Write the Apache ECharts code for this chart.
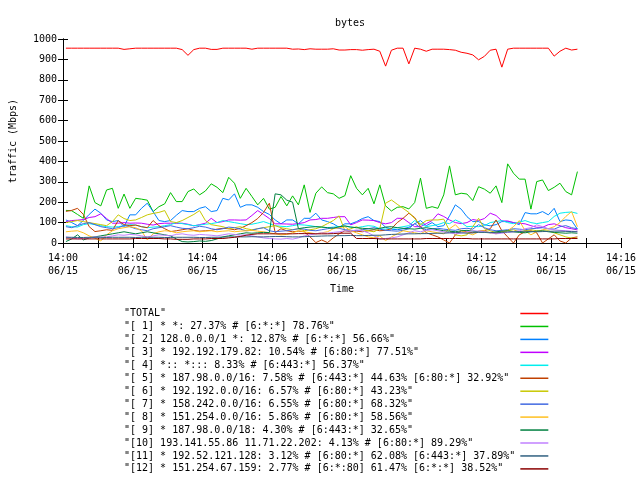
<!DOCTYPE html>
<html><head><meta charset="utf-8">
<script src="https://cdn.jsdelivr.net/npm/echarts@6/dist/echarts.min.js"></script>
<style>html,body{margin:0;padding:0;background:#fff}#c{width:640px;height:480px}</style>
</head><body><div id="c"></div>
<script>
const FONT = '"DejaVu Sans Mono", monospace';
// sample times: seconds after 14:00:00, every 10 s from 14:00:05
const startSec = 5, stepSec = 10;

const seriesNames = [
  '"TOTAL"',
  '"[ 1] * *: 27.37% # [6:*:*] 78.76%"',
  '"[ 2] 128.0.0.0/1 *: 12.87% # [6:*:*] 56.66%"',
  '"[ 3] * 192.192.179.82: 10.54% # [6:80:*] 77.51%"',
  '"[ 4] *:: *::: 8.33% # [6:443:*] 56.37%"',
  '"[ 5] * 187.98.0.0/16: 7.58% # [6:443:*] 44.63% [6:80:*] 32.92%"',
  '"[ 6] * 192.192.0.0/16: 6.57% # [6:80:*] 43.23%"',
  '"[ 7] * 158.242.0.0/16: 6.55% # [6:80:*] 68.32%"',
  '"[ 8] * 151.254.0.0/16: 5.86% # [6:80:*] 58.56%"',
  '"[ 9] * 187.98.0.0/18: 4.30% # [6:443:*] 32.65%"',
  '"[10] 193.141.55.86 11.71.22.202: 4.13% # [6:80:*] 89.29%"',
  '"[11] * 192.52.121.128: 3.12% # [6:80:*] 62.08% [6:443:*] 37.89%"',
  '"[12] * 151.254.67.159: 2.77% # [6:*:80] 61.47% [6:*:*] 38.52%"'
];
const seriesColors = ['#ff0000','#00c000','#0080ff','#c000ff','#00eeee','#c04000','#c8c800','#4169e1','#ffc020','#008040','#c080ff','#306080','#8b0000'];

const total = [955,955,955,955,955,955,955,955,955,955, 949,952,955,955,955,955,955,955,955,955,
  948,920,948,955,955,949,949,955,955,955, 955,955,950,955,955,955,955,955,955,950,
  951,948,952,950,950,950,952,946,946,948, 948,945,948,950,940,867,945,955,955,878,
  955,950,940,950,950,950,948,945,935,930, 922,898,915,945,950,862,950,955,955,955,
  955,955,955,955,916,940,955,946,950];
const s1 = [160,158,140,121,280,198,182,260,268,170, 240,170,219,215,210,154,178,192,247,203,
  203,252,265,236,255,290,273,247,322,293, 219,268,228,187,219,166,175,228,182,231,
  187,285,150,244,275,247,241,219,232,330, 268,236,268,192,285,182,157,175,178,167,
  198,318,170,178,170,236,378,236,244,240, 208,276,264,244,280,198,388,342,313,313,
  166,301,309,257,273,293,252,236,350];
const s2 = [113,100,85,110,140,166,146,113,105,110, 80,138,138,170,195,154,110,105,110,136,
  159,154,154,170,178,154,159,219,211,241, 175,187,187,175,154,140,113,94,113,113,
  94,121,121,146,113,105,94,77,94,94, 105,120,129,110,105,77,68,65,70,77,
  94,110,85,100,80,85,133,187,166,129, 105,105,90,84,90,105,105,100,90,149,
  143,143,154,138,170,105,113,110,68];
const s3 = [105,110,112,115,125,129,143,120,97,97, 100,97,98,97,92,88,95,97,97,96,
  97,92,84,90,97,121,100,105,113,113, 112,113,135,159,140,120,94,94,93,92,
  95,100,113,115,121,121,125,129,129,89, 100,113,112,110,100,94,100,121,121,100,
  80,80,95,110,143,130,113,100,95,100, 115,110,120,146,135,108,108,100,97,94,
  85,77,77,90,94,85,75,70,64];
const s4 = [85,80,78,90,95,90,85,80,78,80, 85,90,88,80,75,78,80,85,90,100,
  95,90,85,88,92,95,100,110,105,100, 95,90,92,98,105,95,85,82,80,85,
  90,88,85,80,78,75,78,80,82,78, 75,80,85,82,70,68,72,75,80,85,
  110,95,80,85,90,100,95,113,100,80, 82,80,85,100,105,110,100,95,102,110,
  100,95,100,105,130,146,150,152,145];
const s5 = [155,160,170,140,80,56,60,65,62,110, 90,85,88,80,75,110,85,70,56,60,
  65,70,62,58,60,62,68,72,70,65, 72,85,100,120,150,195,51,70,60,55,
  58,55,30,2,15,2,25,45,60,55, 58,55,60,65,60,62,70,100,121,146,
  125,80,50,40,30,15,0,40,60,55, 50,58,60,70,113,60,30,0,40,55,
  60,50,0,20,40,10,0,25,30];
const s6 = [100,105,110,105,100,95,90,85,105,138, 120,110,113,125,138,145,150,159,105,100,
  110,125,140,159,110,90,85,80,70,75, 80,70,65,70,75,80,85,75,70,65,
  70,60,65,70,80,95,110,133,60,70, 80,65,60,55,70,195,211,190,170,150,
  120,90,110,113,113,117,60,40,35,40, 80,121,70,60,50,55,60,65,55,60,
  65,60,58,60,50,40,30,24,24];
const s7 = [80,75,85,95,100,90,80,75,70,75, 85,80,70,65,60,70,75,80,85,78,
  72,70,75,82,78,70,65,70,78,75, 68,60,62,70,75,60,55,58,60,65,
  70,68,62,60,65,70,75,72,65,62, 60,65,70,75,68,62,60,58,62,70,
  95,75,65,70,72,68,65,62,70,72, 68,90,75,65,60,62,65,70,68,65,
  70,72,75,70,68,80,85,75,70];
const s8 = [55,58,60,50,35,24,10,40,60,70, 75,80,75,60,15,45,55,60,58,50,
  55,58,60,55,58,60,55,58,60,55, 58,60,62,58,55,50,45,40,42,50,
  60,55,50,45,50,55,70,75,80,60, 50,40,30,25,35,12,30,45,60,55,
  50,45,60,55,50,45,70,90,60,50, 40,55,60,50,45,55,60,80,110,60,
  40,55,65,70,80,100,130,154,80];
const s9 = [7,20,40,15,25,30,35,40,45,50, 55,50,45,50,55,50,45,40,35,20,
  7,5,7,10,8,12,20,30,35,40, 45,50,48,50,52,51,241,236,210,200,
  70,75,78,80,78,75,72,80,84,78, 75,72,70,68,72,78,80,75,72,70,
  68,72,75,70,65,60,58,55,60,62, 58,55,52,50,55,58,60,55,52,50,
  55,58,60,55,52,50,48,50,48];
const s10 = [30,25,20,22,25,30,28,30,35,40, 38,42,40,35,30,35,40,38,35,42,
  45,40,38,42,40,38,35,40,45,42, 38,40,35,30,25,22,20,19,22,19,
  25,35,40,45,50,48,52,55,60,58, 64,60,50,35,20,22,25,30,40,50,
  60,55,62,65,60,55,50,45,48,55, 60,58,55,50,45,48,52,55,60,70,
  75,89,80,70,65,62,60,58,55];
const s11 = [28,28,27,27,28,28,28,27,28,28, 28,28,27,28,28,28,28,27,27,28,
  28,28,28,27,27,28,28,29,30,30, 30,30,31,30,30,31,32,32,31,30,
  30,31,32,33,34,35,35,36,36,37, 36,36,37,38,38,40,42,43,44,45,
  45,46,46,47,48,48,50,52,50,48, 50,52,53,52,50,52,54,55,56,58,
  56,55,56,57,58,58,57,56,55];
const s12 = [20,20,20,20,20,20,20,20,20,20, 20,20,22,22,22,22,22,20,20,18,
  18,18,20,20,20,22,22,22,25,28, 32,38,42,45,45,45,45,45,45,45,
  46,46,46,45,45,45,46,48,48,48, 22,22,22,22,20,20,20,20,20,20,
  20,20,22,22,22,22,22,22,22,22, 20,20,20,20,20,20,20,20,20,20,
  20,20,20,20,20,22,22,22,22];

const seriesValues = [total,s1,s2,s3,s4,s5,s6,s7,s8,s9,s10,s11,s12];
const xDateLabel = '06/15';
const xHour = '14';

const chart = echarts.init(document.getElementById('c'), null, {renderer: 'canvas'});
const pad2 = n => (n < 10 ? '0' : '') + n;
const xLabel = v => (v % 120 === 0) ? (xHour + ':' + pad2(v / 60) + '\n' + xDateLabel) : '';

const series = seriesValues.map((vals, k) => ({
  name: seriesNames[k],
  type: 'line',
  symbol: 'none',
  showSymbol: false,
  animation: false,
  color: seriesColors[k],
  lineStyle: {width: 1, color: seriesColors[k]},
  data: vals.map((v, i) => [startSec + stepSec * i, v])
}));

const axisBase = {
  axisLine: {show: true, lineStyle: {color: '#000', width: 1}},
  axisTick: {show: true, inside: true, length: 5, lineStyle: {color: '#000'}},
  splitLine: {show: false}
};

chart.setOption({
  animation: false,
  backgroundColor: '#fff',
  title: {text: 'bytes', left: 330, top: 13,
    textStyle: {fontFamily: FONT, fontSize: 10, fontWeight: 'normal', color: '#000'}},
  grid: {left: 61, right: 19, top: 39, bottom: 237, containLabel: false},
  legend: {
    orient: 'vertical', left: 124, top: 308.5, padding: 0,
    align: 'right', icon: 'rect', itemWidth: 28, itemHeight: 1.5, itemGap: 2.95,
    data: seriesNames,
    formatter: name => name.padEnd(65, ' '),
    textStyle: {fontFamily: FONT, fontSize: 10, lineHeight: 10, color: '#000'}
  },
  xAxis: [
    Object.assign({}, axisBase, {
      type: 'value', min: 0, max: 960, interval: 60, position: 'bottom',
      name: 'Time', nameLocation: 'middle', nameGap: 41,
      nameTextStyle: {fontFamily: FONT, fontSize: 10, color: '#000'},
      axisLabel: {show: true, formatter: xLabel, fontFamily: FONT, fontSize: 10, color: '#000', lineHeight: 13, margin: 9}
    }),
    Object.assign({}, axisBase, {
      type: 'value', min: 0, max: 960, interval: 60, position: 'top',
      axisLabel: {show: false}
    })
  ],
  yAxis: [
    Object.assign({}, axisBase, {
      type: 'value', min: 0, max: 1000, interval: 100, position: 'left',
      name: 'traffic (Mbps)', nameLocation: 'middle', nameGap: 45,
      nameTextStyle: {fontFamily: FONT, fontSize: 10, color: '#000'},
      axisLabel: {fontFamily: FONT, fontSize: 10, color: '#000', margin: 6, formatter: v => String(v)}
    }),
    Object.assign({}, axisBase, {
      type: 'value', min: 0, max: 1000, interval: 100, position: 'right',
      axisLabel: {show: false}
    })
  ],
  series: series
});
</script></body></html>
